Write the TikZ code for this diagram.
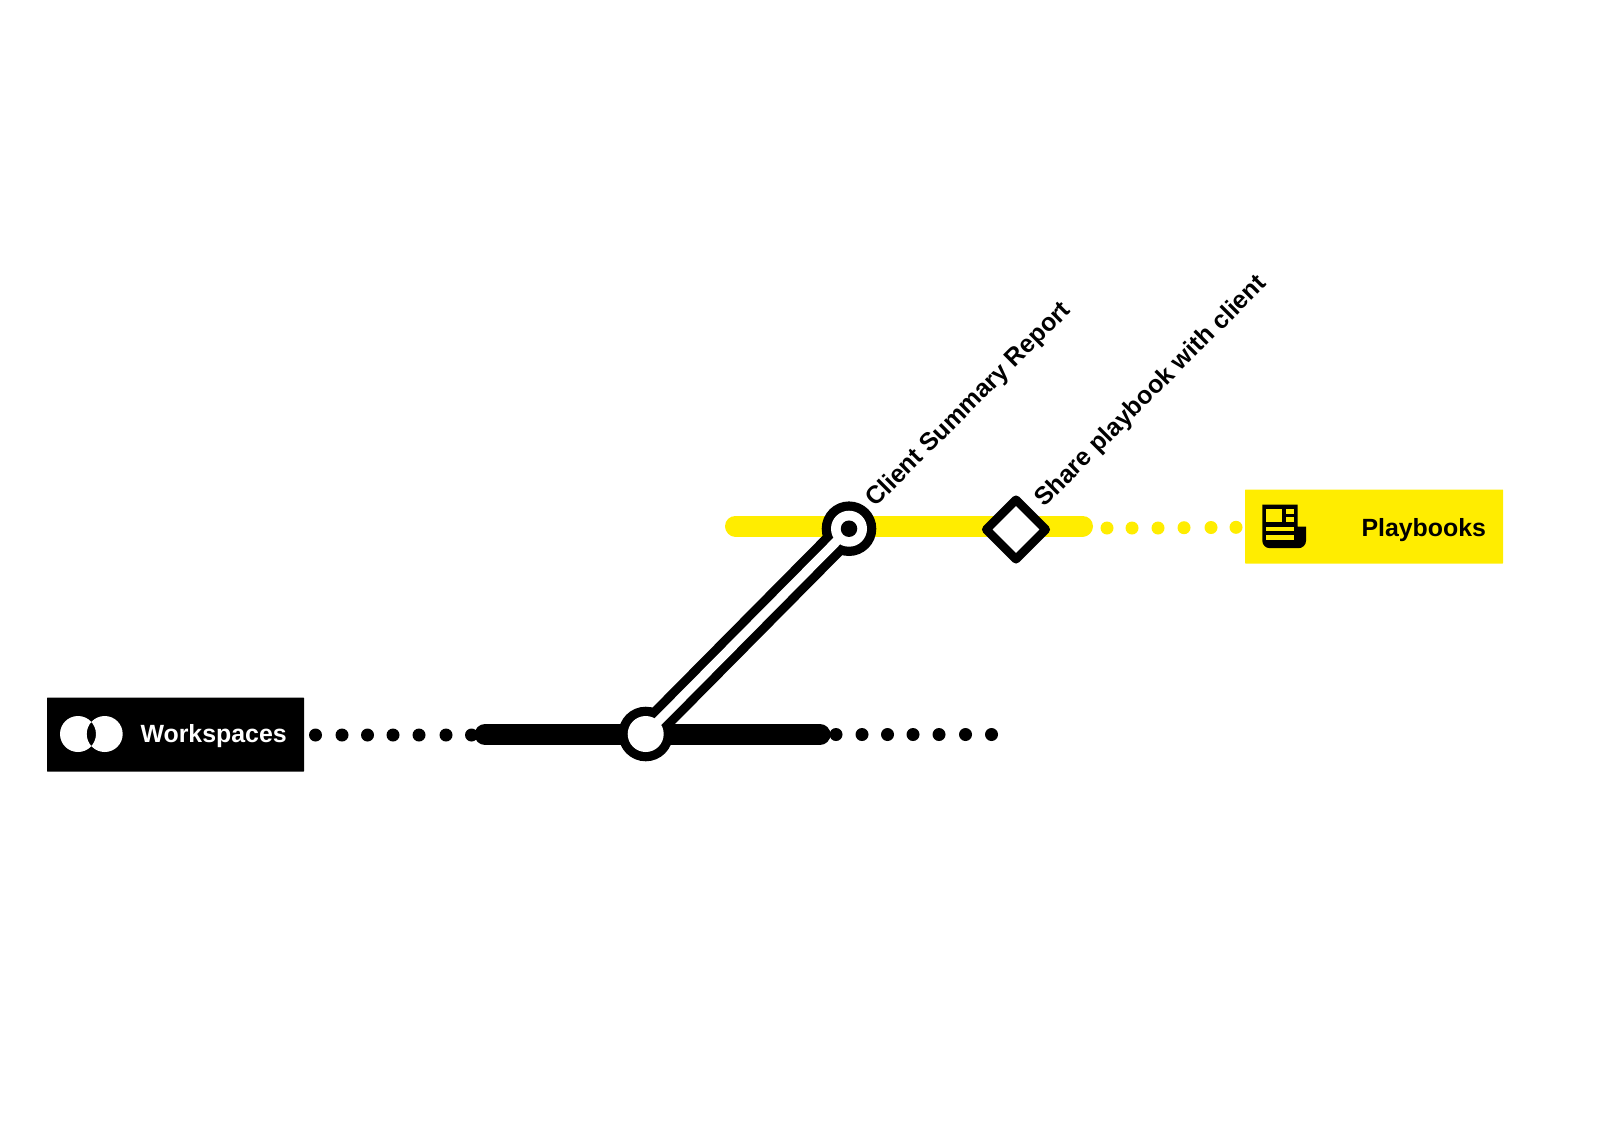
\documentclass[tikz,border=0pt]{standalone}
\usepackage{fontspec}
\setmainfont{Liberation Sans}
\usetikzlibrary{shapes.geometric}
\definecolor{ly}{HTML}{FFED00}
\tikzset{
  x=1pt,y=-1pt,
  lbl/.style={font=\fontsize{24.9pt}{28pt}\selectfont\bfseries,inner sep=0pt},
  rotlbl/.style={font=\fontsize{25pt}{28pt}\selectfont\bfseries,inner sep=0pt,rotate=45,anchor=base west},
  bar/.style={line width=21pt,line cap=round},
  blackdot/.style={circle,fill=black,minimum size=13pt,inner sep=0pt},
  yellowdot/.style={circle,fill=ly,minimum size=13pt,inner sep=0pt},
  banner/.style={inner sep=0pt,rounded corners=0.5pt},
}
\begin{document}
\begin{tikzpicture}
\useasboundingbox (0,0) rectangle (1614,1135);
\coordinate (bs) at (485,734.5);
\coordinate (be) at (820,734.5);
\coordinate (ys) at (735.5,526);
\coordinate (ye) at (1082.5,526);
\coordinate (j) at (645.7,734);
\coordinate (t) at (849,528.7);
% banners
\node[banner,fill=black,minimum width=257pt,minimum height=74pt] (ws) at (175.5,734.5) {};
\node[banner,fill=ly,minimum width=258pt,minimum height=74pt] (pb) at (1374,526.5) {};
\node[lbl,text=white,anchor=base west] (wst) at (140.3,742) {Workspaces};
\node[lbl,text=black,anchor=base west] (pbt) at (1361.3,536) {Playbooks};
% workspaces icon
\fill[white,even odd rule] (78,734) circle (18) (104.7,734) circle (18);
% playbooks icon
\begin{scope}[yshift=-0.7pt]
\fill[black] (1262.3,504) -- (1297.7,504) -- (1297.7,526) -- (1306,526) -- (1306,540) arc[start angle=0,end angle=90,radius=7.5] -- (1269.8,547.5) arc[start angle=90,end angle=180,radius=7.5] -- cycle;
\fill[ly] (1266,508) rectangle (1282.3,521);
\fill[ly] (1286.3,508) rectangle (1294,513);
\fill[ly] (1286.3,516.7) rectangle (1294,521);
\fill[ly] (1266,526) rectangle (1294,530.3);
\fill[ly] (1266,534.3) rectangle (1294,539);
\end{scope}
% dots
\foreach \i/\x in {1/315.5,2/342,3/367.5,4/393,5/419,6/446,7/471.5}
  \node[blackdot] (ld\i) at (\x,735) {};
\foreach \i/\x in {1/836,2/862,3/887.5,4/913,5/939,6/965.5,7/991.5}
  \node[blackdot] (rd\i) at (\x,734.5) {};
\foreach \i/\x/\y in {1/1107/528,2/1132/528,3/1158/528,4/1184/527.7,5/1211/527.5,6/1236/527.3}
  \node[yellowdot] (yd\i) at (\x,\y) {};
% lines
\draw[bar,black] (bs) -- (be);
\draw[bar,ly] (ys) -- (ye);
% interchange
\fill[black] (j) circle (27.3);
\fill[black] (t) circle (27.3);
\draw[black,line width=27.5pt] (j) -- (t);
\fill[white] (j) circle (18);
\fill[white] (t) circle (18);
\draw[white,line width=9.4pt] (j) -- (t);
\node[circle,fill=black,minimum size=16.5pt,inner sep=0pt] (td) at (t) {};
% diamond
\node[diamond,draw=black,fill=white,line width=8.7pt,line join=round,minimum size=63pt,inner sep=0pt] (dm) at (1016,529.5) {};
% labels
\node[rotlbl] (l1) at (875.3,508) {Client Summary Report};
\node[rotlbl] (l2) at (1044.3,508) {Share playbook with client};
\end{tikzpicture}
\end{document}
